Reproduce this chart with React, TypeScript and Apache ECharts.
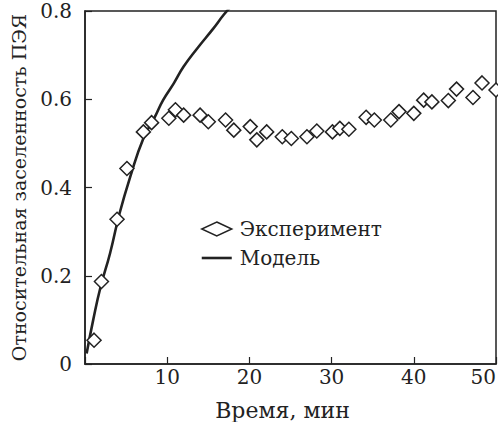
import React, { useEffect, useRef } from "react";
import * as echarts from "echarts";

// Experimental points: time (min) and relative population
const expTime = [1.1, 2.0, 3.9, 5.1, 7.1, 8.1, 10.2, 11.0, 12.0, 14.0, 15.0, 17.1, 18.1, 20.1, 20.9, 22.1, 24.0, 25.1, 27.0, 28.2, 30.1, 31.0, 32.1, 34.2, 35.2, 37.2, 38.2, 40.0, 41.2, 42.2, 44.2, 45.2, 47.2, 48.3, 50.0];
const expValue = [0.054, 0.187, 0.328, 0.443, 0.526, 0.547, 0.557, 0.576, 0.564, 0.564, 0.549, 0.553, 0.530, 0.538, 0.508, 0.526, 0.515, 0.511, 0.515, 0.528, 0.526, 0.534, 0.532, 0.559, 0.553, 0.553, 0.572, 0.568, 0.598, 0.594, 0.597, 0.623, 0.604, 0.637, 0.621];

// Model curve
const modelTime = [0.2, 1.0, 1.9, 3.05, 4.2, 5.5, 7.1, 8.5, 9.5, 10.8, 12.0, 13.6, 15.6, 16.9, 18.0];
const modelValue = [0.024, 0.1, 0.175, 0.251, 0.341, 0.424, 0.511, 0.56, 0.598, 0.636, 0.674, 0.714, 0.76, 0.792, 0.815];

const xTicks = { min: 0, max: 50, interval: 10 };
const yTicks = { min: 0, max: 0.8, interval: 0.2 };

const FONT = '"DejaVu Serif", serif';
const FS = 20;
const INK = "#222";

export default function App() {
  const ref = useRef<HTMLDivElement>(null);
  useEffect(() => {
    if (!ref.current) return;
    const chart = echarts.init(ref.current, null, { renderer: "svg" });
    chart.setOption({
      animation: false,
      backgroundColor: "#fff",
      textStyle: { fontFamily: FONT, color: INK },
      grid: {
        left: 85,
        right: 2,
        top: 11,
        bottom: 58,
        containLabel: false,
        outerBoundsMode: "none",
        show: true,
        borderColor: INK,
        borderWidth: 1.5,
        backgroundColor: "transparent",
      },
      legend: {
        orient: "vertical",
        left: 196,
        top: 214,
        itemWidth: 30,
        itemHeight: 14,
        itemGap: 9,
        textStyle: { fontFamily: FONT, fontSize: FS, color: INK, padding: [0, 0, 0, 3] },
        data: [
          {
            name: "Эксперимент",
            icon: "diamond",
            itemStyle: { color: "#fff", borderColor: INK, borderWidth: 1.5 },
          },
          {
            name: "Модель",
            icon: "path://M0,0 L30,0 L30,2.6 L0,2.6 Z",
            itemStyle: { color: INK, borderWidth: 0 },
          },
        ],
      },
      xAxis: {
        type: "value",
        min: xTicks.min,
        max: xTicks.max,
        interval: xTicks.interval,
        name: "Время, мин",
        nameLocation: "middle",
        nameGap: 35,
        nameTextStyle: { fontFamily: FONT, fontSize: 22, color: INK, padding: [0, 16, 0, 0] },
        axisLine: { show: true, lineStyle: { color: INK, width: 1.5 } },
        axisTick: { show: true, inside: true, length: 7, lineStyle: { color: INK, width: 1.2 } },
        axisLabel: {
          fontFamily: FONT,
          fontSize: FS,
          color: INK,
          margin: 3,
          alignMaxLabel: "right",
          formatter: (v: number) => (v === 0 ? "" : String(v)),
        },
        splitLine: { show: false },
      },
      yAxis: {
        type: "value",
        min: yTicks.min,
        max: yTicks.max,
        interval: yTicks.interval,
        name: "Относительная заселенность ПЭЯ",
        nameLocation: "middle",
        nameGap: 57,
        nameRotate: 90,
        nameTextStyle: { fontFamily: FONT, fontSize: 19, color: INK },
        axisLine: { show: true, lineStyle: { color: INK, width: 1.5 } },
        axisTick: { show: true, inside: true, length: 7, lineStyle: { color: INK, width: 1.2 } },
        axisLabel: {
          fontFamily: FONT,
          fontSize: FS,
          color: INK,
          margin: 13,
          formatter: (v: number) => (v === 0 ? "0" : v.toFixed(1)),
        },
        splitLine: { show: false },
      },
      series: [
        {
          name: "Модель",
          type: "line",
          smooth: true,
          symbol: "none",
          clip: true,
          lineStyle: { color: INK, width: 2.6 },
          itemStyle: { color: INK },
          data: modelTime.map((t, i) => [t, modelValue[i]]),
          z: 2,
        },
        {
          name: "Эксперимент",
          type: "scatter",
          symbol: "diamond",
          symbolSize: 14,
          itemStyle: { color: "#fff", borderColor: INK, borderWidth: 1.5, opacity: 1 },
          data: expTime.map((t, i) => [t, expValue[i]]),
          z: 3,
        },
      ],
    });
    return () => chart.dispose();
  }, []);
  return <div ref={ref} style={{ width: 498, height: 422, position: "absolute", left: 0, top: 0 }} />;
}
